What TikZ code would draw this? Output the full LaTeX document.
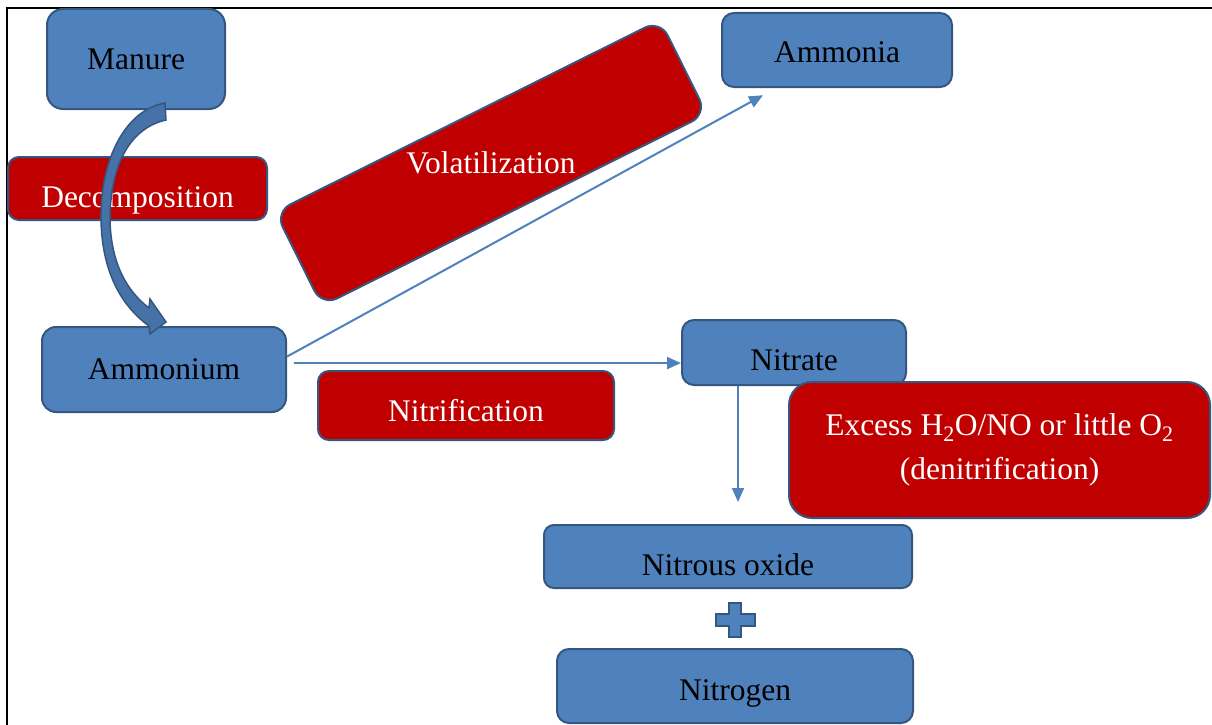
\documentclass[tikz,border=0pt]{standalone}
\usepackage{fontspec}
\setmainfont{Liberation Serif}
\usetikzlibrary{arrows.meta}
\definecolor{boxblue}{HTML}{4F81BD}
\definecolor{boxedge}{HTML}{35577F}
\definecolor{boxred}{HTML}{C00000}
\definecolor{bendblue}{HTML}{4672A8}

\begin{document}
\begin{tikzpicture}[x=1pt, y=-1pt, every node/.style={font=\fontsize{31.5}{44}\selectfont, inner sep=0pt}, >={Triangle[length=14pt, width=12pt]},
	blk/.style={draw=boxedge, line width=2pt, fill=boxblue, rounded corners=#1, text=black}, blk/.default=12pt,
	rd/.style={draw=boxedge, line width=2pt, fill=boxred, rounded corners=#1, text=white}, rd/.default=11pt,
	flow/.style={draw=boxblue, line width=2pt, ->},
	drop/.style={text height=#1, text depth=0pt}]
	\useasboundingbox (0,0) rectangle (1212,725);
	\draw[line width=2.5pt] (7,725) -- (7,8) -- (1212,8);

	\node[blk=16pt, minimum width=178pt, minimum height=100pt] (manure) at (136,59) {Manure};
	\node[rd, drop=37pt, minimum width=259pt, minimum height=63pt] (decomp) at (137.5,188.5) {Decomposition};
	\node[rd=17pt, rotate=26.5, minimum width=430pt, minimum height=105pt] (volbox) at (491,163) {};
	\node[text=white] (vol) at (volbox.center) {Volatilization};
	\node[blk, drop=26pt, minimum width=230pt, minimum height=74pt] (ammonia) at (837,50) {Ammonia};
	\node[blk=14pt, minimum width=244pt, minimum height=85pt] (ammonium) at (164,369.5) {Ammonium};
	\node[rd, drop=31pt, minimum width=296pt, minimum height=69pt] (nitrif) at (466,405.5) {Nitrification};
	\node[blk, drop=35pt, minimum width=224pt, minimum height=65pt] (nitrate) at (794,352.5) {Nitrate};
	\node[rd=23pt, align=center, minimum width=421pt, minimum height=136pt] (denit) at (999.5,450) {Excess H\textsubscript{2}O/NO or little O\textsubscript{2}\\(denitrification)};
	\node[blk=10pt, drop=37pt, minimum width=368pt, minimum height=63pt] (nitrous) at (728,556.5) {Nitrous oxide};
	\node[blk, drop=28pt, minimum width=356pt, minimum height=74pt] (nitrogen) at (735,686) {Nitrogen};

	\draw[flow, shorten >=15pt] (ammonium.6) -- (ammonia.212);
	\draw[flow, shorten <=7pt] (ammonium.3.75) -- (ammonium.3.75 -| nitrate.west);
	\draw[flow, shorten >=22pt] ([xshift=-56pt]nitrate.south) -- ([xshift=-56pt]nitrate.south |- nitrous.north);

	% bent block arrow, manure down to ammonium
	\filldraw[draw=boxedge, line width=1.5pt, fill=bendblue] (165,103) .. controls (125,110) and (100,160) .. (101,220) .. controls (102,270) and (120,305) .. (149,326) -- (150,334) -- (166,322) -- (150,299) -- (149,308) .. controls (128,292) and (111,265) .. (110,220) .. controls (110,165) and (130,128) .. (166,120) -- cycle;

	% plus sign
	\filldraw[draw=boxedge, line width=1.5pt, fill=boxblue] (729,603) -- (741,603) -- (741,614) -- (755,614) -- (755,626) -- (741,626) -- (741,637) -- (729,637) -- (729,626) -- (716,626) -- (716,614) -- (729,614) -- cycle;
\end{tikzpicture}
\end{document}
